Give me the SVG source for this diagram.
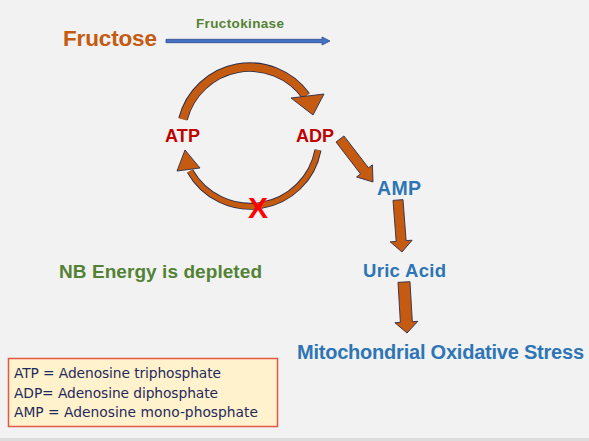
<svg xmlns="http://www.w3.org/2000/svg" width="589" height="441" viewBox="0 0 589 441">
<style>
.b{font-family:"Liberation Sans",Arial,sans-serif;font-weight:bold}
.or{fill:#c55a11}.gr{fill:#548235}.rd{fill:#c00000}.bl{fill:#2e75b6}
.arr{fill:#c55a11;stroke:#2b2d4a;stroke-width:0.9;stroke-linejoin:round}
.shO{fill:none;stroke:#2b2d4a;stroke-linecap:butt}
.shI{fill:none;stroke:#c55a11;stroke-linecap:butt}
.leg{font-family:"DejaVu Sans",Verdana,sans-serif;font-size:13.8px;fill:#1f2a5c}
</style>
<rect x="0" y="0" width="589" height="441" fill="#f2f2f2"/>
<rect x="0" y="438" width="589" height="3" fill="#dcdcdc"/>

<g id="connectors">
  <!-- Fructokinase arrow -->
  <path d="M166 39.3 L322 39.3 L322 37 L330 41 L322 45 L322 42.7 L166 42.7 Z" fill="#4472c4" stroke="#2f4b8a" stroke-width="0.8"/>
  <!-- top arc ATP -> ADP -->
  <path class="shO" stroke-width="9.6" d="M183 119 A69 69 0 0 1 306 96"/>
  <path class="shI" stroke-width="7.8" d="M183 119.5 A69 69 0 0 1 306 96"/>
  <polygon class="arr" points="291,98 324,94 313,115"/>
  <!-- bottom arc ADP -> ATP -->
  <path class="shO" stroke-width="7" d="M318 150 A69 69 0 0 1 190 171"/>
  <path class="shI" stroke-width="5.2" d="M318 150 A69 69 0 0 1 190 171" stroke="#b0530f"/>
  <polygon class="arr" points="177,171 200,168 185,150"/>
  <!-- ADP -> AMP -->
  <polygon class="arr" points="343.97,135.95 368.47,167.85 372.43,164.81 373,182 356.57,177 360.53,173.95 336.03,142.05"/>
  <!-- AMP -> Uric Acid -->
  <polygon class="arr" points="402.99,199.62 406.14,240.65 412.13,240.19 402,252 390.19,241.87 396.17,241.41 393.01,200.38"/>
  <!-- Uric Acid -> Mitochondrial Oxidative Stress -->
  <polygon class="arr" points="409.99,281.65 412.34,321.67 417.83,321.34 407,333 394.87,322.7 400.36,322.37 398.01,282.35"/>
</g>

<g id="fructose"><text class="b or" x="63" y="46" font-size="22.5" textLength="94">Fructose</text></g>
<g id="fructokinase"><text class="b gr" x="196" y="28" font-size="13.5" textLength="88">Fructokinase</text></g>
<g id="atp"><text class="b rd" x="165" y="141.5" font-size="18" textLength="35">ATP</text></g>
<g id="adp"><text class="b rd" x="296" y="141.5" font-size="18" textLength="38">ADP</text></g>
<g id="block"><text class="b" x="248" y="218" font-size="30" fill="#ff0000">X</text></g>
<g id="amp"><text class="b bl" x="377" y="195" font-size="19.5" textLength="44">AMP</text></g>
<g id="uric-acid"><text class="b bl" x="363" y="277" font-size="18.5" textLength="83">Uric Acid</text></g>
<g id="mito-stress"><text class="b bl" x="297" y="359" font-size="20" textLength="287">Mitochondrial Oxidative Stress</text></g>
<g id="nb-note"><text class="b gr" x="59" y="278" font-size="19" textLength="203">NB Energy is depleted</text></g>

<g id="legend">
  <rect x="8.5" y="358.5" width="269" height="68" fill="#fff2cc" stroke="#e05a47" stroke-width="1.5"/>
  <text class="leg" x="14" y="378" textLength="207">ATP = Adenosine triphosphate</text>
  <text class="leg" x="14" y="397.5" textLength="204">ADP= Adenosine diphosphate</text>
  <text class="leg" x="14" y="416.5" textLength="244">AMP = Adenosine mono-phosphate</text>
</g>
</svg>
